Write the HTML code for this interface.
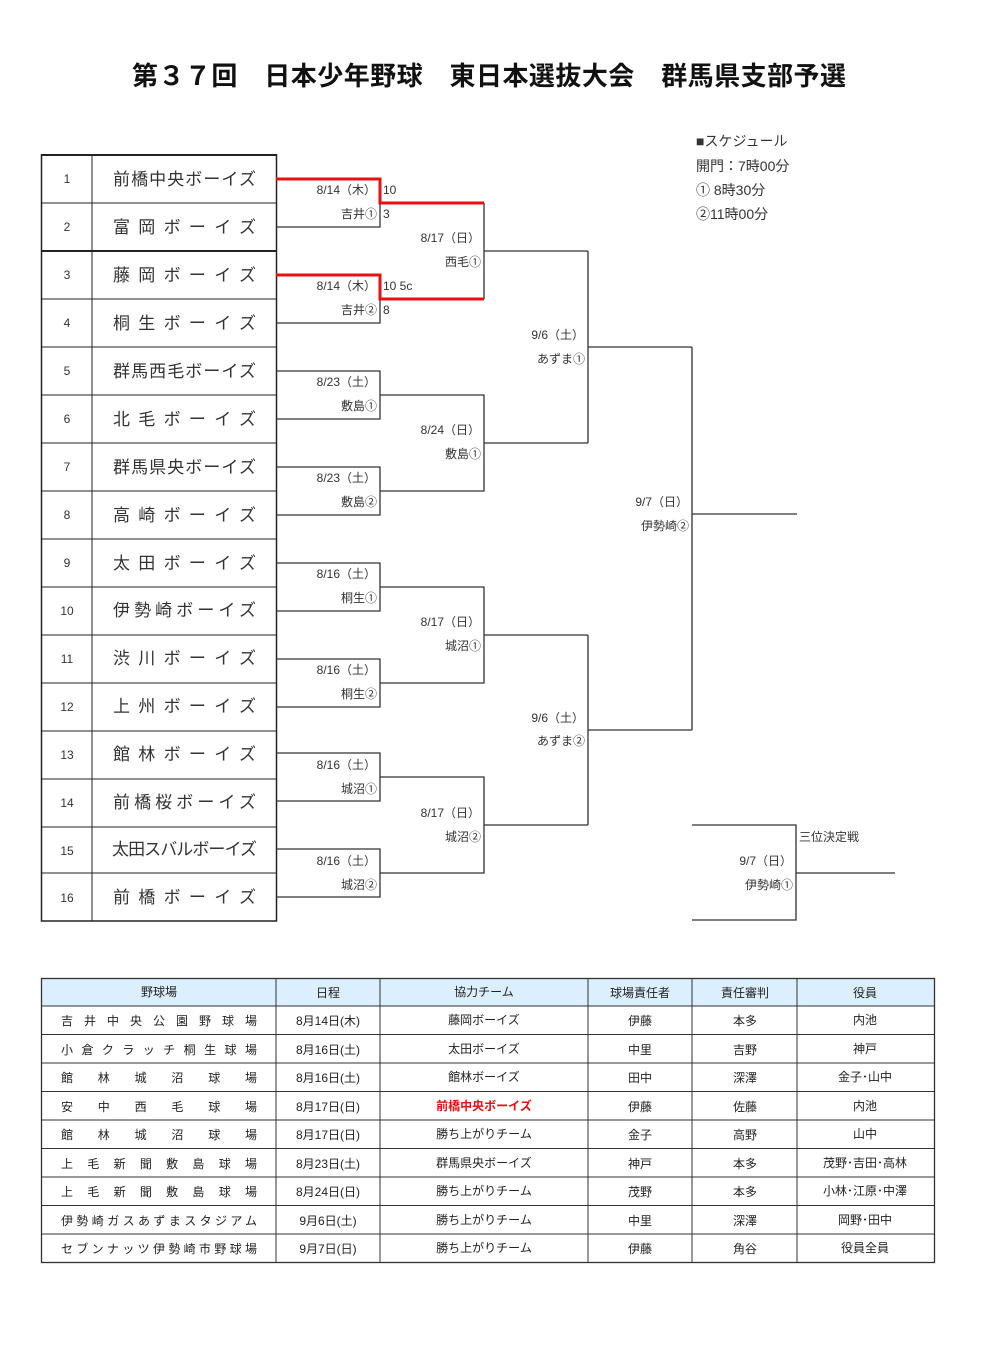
<!DOCTYPE html>
<html><head><meta charset="utf-8"><style>
html,body{margin:0;padding:0;background:#fff;}
svg{display:block;font-family:"Liberation Sans","Noto Sans CJK JP",sans-serif;}
</style></head><body>
<svg width="996" height="1355" viewBox="0 0 996 1355" xmlns="http://www.w3.org/2000/svg">
<text x="132" y="85" font-size="26" font-weight="bold" fill="#111" textLength="714" lengthAdjust="spacing">第３７回　日本少年野球　東日本選抜大会　群馬県支部予選</text>

<g font-size="14" fill="#333">
<text x="696" y="146">■スケジュール</text>
<text x="696" y="171">開門：7時00分</text>
<text x="696" y="195">①  8時30分</text>
<text x="696" y="219">②11時00分</text>
</g>

<!-- team table -->
<g stroke="#222" fill="none">
<rect x="41.5" y="155" width="235" height="766" stroke-width="1.5"/>
<line x1="92" y1="155" x2="92" y2="921"/>
<line x1="41" y1="155" x2="277" y2="155" stroke-width="2"/>
<line x1="41" y1="251" x2="277" y2="251" stroke-width="2"/>
<line x1="41" y1="203" x2="277" y2="203"/>
<line x1="41" y1="299" x2="277" y2="299"/>
<line x1="41" y1="347" x2="277" y2="347"/>
<line x1="41" y1="395" x2="277" y2="395"/>
<line x1="41" y1="443" x2="277" y2="443"/>
<line x1="41" y1="491" x2="277" y2="491"/>
<line x1="41" y1="539" x2="277" y2="539"/>
<line x1="41" y1="587" x2="277" y2="587"/>
<line x1="41" y1="635" x2="277" y2="635"/>
<line x1="41" y1="683" x2="277" y2="683"/>
<line x1="41" y1="731" x2="277" y2="731"/>
<line x1="41" y1="779" x2="277" y2="779"/>
<line x1="41" y1="827" x2="277" y2="827"/>
<line x1="41" y1="873" x2="277" y2="873"/>
</g>
<g font-size="12" fill="#333" text-anchor="middle">
<text x="67" y="183">1</text><text x="67" y="231">2</text><text x="67" y="279">3</text><text x="67" y="327">4</text>
<text x="67" y="375">5</text><text x="67" y="423">6</text><text x="67" y="471">7</text><text x="67" y="519">8</text>
<text x="67" y="567">9</text><text x="67" y="615">10</text><text x="67" y="663">11</text><text x="67" y="711">12</text>
<text x="67" y="759">13</text><text x="67" y="807">14</text><text x="67" y="855">15</text><text x="67" y="902">16</text>
</g>
<g font-size="17" fill="#333">
<text x="113" y="185" textLength="143" lengthAdjust="spacing">前橋中央ボーイズ</text>
<text x="113" y="233" textLength="143" lengthAdjust="spacing">富岡ボーイズ</text>
<text x="113" y="281" textLength="143" lengthAdjust="spacing">藤岡ボーイズ</text>
<text x="113" y="329" textLength="143" lengthAdjust="spacing">桐生ボーイズ</text>
<text x="113" y="377" textLength="143" lengthAdjust="spacing">群馬西毛ボーイズ</text>
<text x="113" y="425" textLength="143" lengthAdjust="spacing">北毛ボーイズ</text>
<text x="113" y="473" textLength="143" lengthAdjust="spacing">群馬県央ボーイズ</text>
<text x="113" y="521" textLength="143" lengthAdjust="spacing">高崎ボーイズ</text>
<text x="113" y="569" textLength="143" lengthAdjust="spacing">太田ボーイズ</text>
<text x="113" y="616" textLength="143" lengthAdjust="spacing">伊勢崎ボーイズ</text>
<text x="113" y="664" textLength="143" lengthAdjust="spacing">渋川ボーイズ</text>
<text x="113" y="712" textLength="143" lengthAdjust="spacing">上州ボーイズ</text>
<text x="113" y="760" textLength="143" lengthAdjust="spacing">館林ボーイズ</text>
<text x="113" y="808" textLength="143" lengthAdjust="spacing">前橋桜ボーイズ</text>
<text x="112" y="855" textLength="145" lengthAdjust="spacing">太田スバルボーイズ</text>
<text x="113" y="903" textLength="143" lengthAdjust="spacing">前橋ボーイズ</text>
</g>

<!-- bracket lines -->
<g stroke="#333" stroke-width="1.3" fill="none">
<polyline points="276,227 380,227 380,179"/>
<polyline points="276,323 380,323 380,299"/>
<polyline points="276,371 380,371 380,419 276,419"/>
<polyline points="276,467 380,467 380,515 276,515"/>
<polyline points="276,563 380,563 380,611 276,611"/>
<polyline points="276,659 380,659 380,707 276,707"/>
<polyline points="276,753 380,753 380,801 276,801"/>
<polyline points="276,849 380,849 380,897 276,897"/>
<polyline points="484,203 484,299"/>
<line x1="484" y1="251" x2="588" y2="251"/>
<polyline points="380,395 484,395 484,491 380,491"/>
<line x1="484" y1="443" x2="588" y2="443"/>
<polyline points="380,587 484,587 484,683 380,683"/>
<line x1="484" y1="635" x2="588" y2="635"/>
<polyline points="380,777 484,777 484,873 380,873"/>
<line x1="484" y1="825" x2="588" y2="825"/>
<polyline points="588,251 588,443"/>
<line x1="588" y1="347" x2="692" y2="347"/>
<polyline points="588,635 588,825"/>
<line x1="588" y1="730" x2="692" y2="730"/>
<polyline points="692,347 692,730"/>
<line x1="692" y1="514" x2="797" y2="514"/>
<polyline points="692,825 796,825 796,920 692,920"/>
<line x1="796" y1="873" x2="895" y2="873"/>
</g>
<g stroke="#e81010" stroke-width="3" fill="none">
<polyline points="276,179 380,179 380,203 484,203"/>
<polyline points="276,275 380,275 380,299 484,299"/>
</g>

<g font-size="12" fill="#333" text-anchor="end">
<text x="376" y="194">8/14（木）</text><text x="377" y="218">吉井①</text>
<text x="376" y="290">8/14（木）</text><text x="377" y="314">吉井②</text>
<text x="376" y="386">8/23（土）</text><text x="377" y="410">敷島①</text>
<text x="376" y="482">8/23（土）</text><text x="377" y="506">敷島②</text>
<text x="376" y="578">8/16（土）</text><text x="377" y="602">桐生①</text>
<text x="376" y="674">8/16（土）</text><text x="377" y="698">桐生②</text>
<text x="376" y="769">8/16（土）</text><text x="377" y="793">城沼①</text>
<text x="376" y="865">8/16（土）</text><text x="377" y="889">城沼②</text>
<text x="480" y="242">8/17（日）</text><text x="481" y="266">西毛①</text>
<text x="480" y="434">8/24（日）</text><text x="481" y="458">敷島①</text>
<text x="480" y="626">8/17（日）</text><text x="481" y="650">城沼①</text>
<text x="480" y="817">8/17（日）</text><text x="481" y="841">城沼②</text>
<text x="584" y="339">9/6（土）</text><text x="585" y="363">あずま①</text>
<text x="584" y="722">9/6（土）</text><text x="585" y="745">あずま②</text>
<text x="688" y="506">9/7（日）</text><text x="689" y="530">伊勢崎②</text>
<text x="792" y="865">9/7（日）</text><text x="793" y="889">伊勢崎①</text>
</g>
<g font-size="12" fill="#333">
<text x="383" y="194">10</text><text x="383" y="218">3</text>
<text x="383" y="290">10 5c</text><text x="383" y="314">8</text>
<text x="799" y="841">三位決定戦</text>
</g>

<!-- bottom table -->
<rect x="41" y="978" width="893" height="28" fill="#dcefff"/>
<g stroke="#333" stroke-width="1" fill="none">
<rect x="41.5" y="978.5" width="893" height="284" stroke-width="1.3"/>
<line x1="276" y1="978" x2="276" y2="1262"/>
<line x1="380" y1="978" x2="380" y2="1262"/>
<line x1="588" y1="978" x2="588" y2="1262"/>
<line x1="692" y1="978" x2="692" y2="1262"/>
<line x1="797" y1="978" x2="797" y2="1262"/>
<line x1="41" y1="1006" x2="934" y2="1006"/>
<line x1="41" y1="1034.5" x2="934" y2="1034.5"/>
<line x1="41" y1="1063" x2="934" y2="1063"/>
<line x1="41" y1="1091.5" x2="934" y2="1091.5"/>
<line x1="41" y1="1120" x2="934" y2="1120"/>
<line x1="41" y1="1148.5" x2="934" y2="1148.5"/>
<line x1="41" y1="1177" x2="934" y2="1177"/>
<line x1="41" y1="1205.5" x2="934" y2="1205.5"/>
<line x1="41" y1="1234" x2="934" y2="1234"/>
</g>
<g font-size="12" fill="#222" text-anchor="middle">
<text x="159" y="996">野球場</text><text x="328" y="997">日程</text><text x="484" y="996">協力チーム</text><text x="640" y="997">球場責任者</text><text x="745" y="997">責任審判</text><text x="865" y="997">役員</text>
<text x="328" y="1025">8月14日(木)</text><text x="484" y="1024">藤岡ボーイズ</text><text x="640" y="1025">伊藤</text><text x="745" y="1025">本多</text><text x="865" y="1024">内池</text>
<text x="328" y="1054">8月16日(土)</text><text x="484" y="1053">太田ボーイズ</text><text x="640" y="1054">中里</text><text x="745" y="1054">吉野</text><text x="865" y="1053">神戸</text>
<text x="328" y="1082">8月16日(土)</text><text x="484" y="1081">館林ボーイズ</text><text x="640" y="1082">田中</text><text x="745" y="1082">深澤</text><text x="865" y="1081">金子･山中</text>
<text x="328" y="1111">8月17日(日)</text><text x="484" y="1110" fill="#e81010" font-weight="bold">前橋中央ボーイズ</text><text x="640" y="1111">伊藤</text><text x="745" y="1111">佐藤</text><text x="865" y="1110">内池</text>
<text x="328" y="1139">8月17日(日)</text><text x="484" y="1138">勝ち上がりチーム</text><text x="640" y="1139">金子</text><text x="745" y="1139">高野</text><text x="865" y="1138">山中</text>
<text x="328" y="1168">8月23日(土)</text><text x="484" y="1167">群馬県央ボーイズ</text><text x="640" y="1168">神戸</text><text x="745" y="1168">本多</text><text x="865" y="1167">茂野･吉田･高林</text>
<text x="328" y="1196">8月24日(日)</text><text x="484" y="1195">勝ち上がりチーム</text><text x="640" y="1196">茂野</text><text x="745" y="1196">本多</text><text x="865" y="1195">小林･江原･中澤</text>
<text x="328" y="1225">9月6日(土)</text><text x="484" y="1224">勝ち上がりチーム</text><text x="640" y="1225">中里</text><text x="745" y="1225">深澤</text><text x="865" y="1224">岡野･田中</text>
<text x="328" y="1253">9月7日(日)</text><text x="484" y="1252">勝ち上がりチーム</text><text x="640" y="1253">伊藤</text><text x="745" y="1253">角谷</text><text x="865" y="1252">役員全員</text>
</g>
<g font-size="12" fill="#222">
<text x="61" y="1025" textLength="196" lengthAdjust="spacing">吉井中央公園野球場</text>
<text x="61" y="1054" textLength="196" lengthAdjust="spacing">小倉クラッチ桐生球場</text>
<text x="61" y="1082" textLength="196" lengthAdjust="spacing">館林城沼球場</text>
<text x="61" y="1111" textLength="196" lengthAdjust="spacing">安中西毛球場</text>
<text x="61" y="1139" textLength="196" lengthAdjust="spacing">館林城沼球場</text>
<text x="61" y="1168" textLength="196" lengthAdjust="spacing">上毛新聞敷島球場</text>
<text x="61" y="1196" textLength="196" lengthAdjust="spacing">上毛新聞敷島球場</text>
<text x="61" y="1225" textLength="196" lengthAdjust="spacing">伊勢崎ガスあずまスタジアム</text>
<text x="61" y="1253" textLength="196" lengthAdjust="spacing">セブンナッツ伊勢崎市野球場</text>
</g>
</svg>
</body></html>
